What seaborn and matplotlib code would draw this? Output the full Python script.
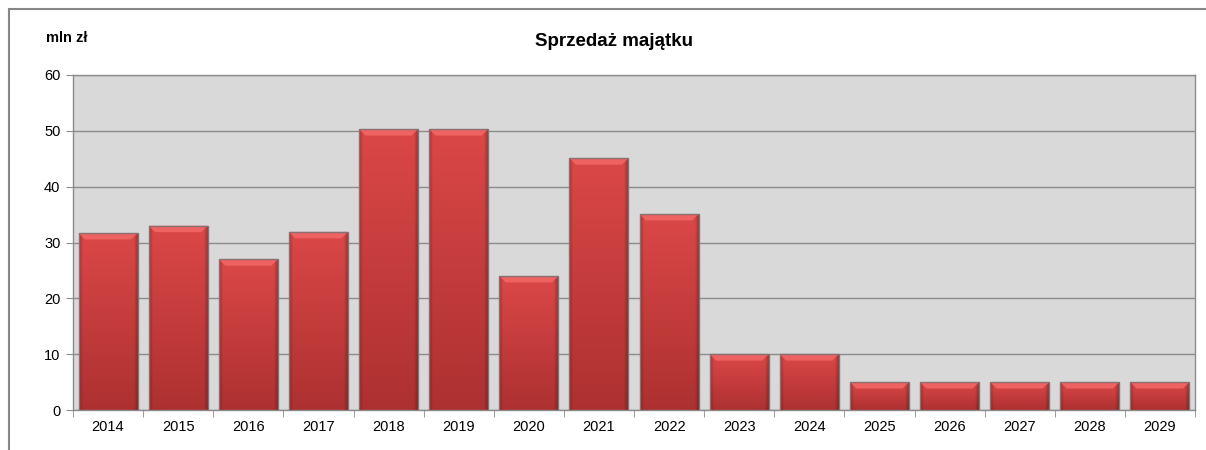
import numpy as np
import pandas as pd
import matplotlib
matplotlib.use("Agg")
import matplotlib.pyplot as plt
import seaborn as sns
from matplotlib.patches import Rectangle, Polygon
from matplotlib.ticker import FixedLocator

# Data
years = ["2014", "2015", "2016", "2017", "2018", "2019", "2020", "2021",
         "2022", "2023", "2024", "2025", "2026", "2027", "2028", "2029"]
sales = [31.7, 33.0, 27.0, 31.9, 50.3, 50.3, 24.0, 45.1,
         35.1, 10.0, 10.0, 5.0, 5.0, 5.0, 5.0, 5.0]
y_ticks = [0, 10, 20, 30, 40, 50, 60]

df = pd.DataFrame({"rok": years, "wartosc": sales})

sns.set_style("white")
plt.rcParams["font.family"] = ["Liberation Sans", "DejaVu Sans"]
plt.rcParams["text.color"] = "black"
plt.rcParams["xtick.color"] = "black"
plt.rcParams["ytick.color"] = "black"

fig = plt.figure(figsize=(12.06, 4.5), dpi=100)
ax = fig.add_axes([73 / 1206, 1 - 410 / 450, 1122 / 1206, 335 / 450])

sns.barplot(data=df, x="rok", y="wartosc", color="#d44040", width=0.84,
            saturation=1, ax=ax, zorder=2)

ax.set_facecolor("#d9d9d9")
ax.set_ylim(0, 60)
ax.set_xlim(-0.5, len(years) - 0.5)
ax.set_yticks(y_ticks)
ax.yaxis.grid(True, color="#8c8c8c", linewidth=1)
ax.set_axisbelow(True)
ax.set_xlabel("")
ax.set_ylabel("")
for s in ax.spines.values():
    s.set_color("#8c8c8c")
    s.set_linewidth(1)
ax.tick_params(axis="y", length=5, color="#8c8c8c", labelsize=10.5, pad=4,
               direction="out", left=True, labelcolor="black")
ax.tick_params(axis="x", length=0, labelsize=10.5, pad=7, labelcolor="black")
ax.xaxis.set_minor_locator(FixedLocator(np.arange(-0.5, len(years), 1)))
ax.tick_params(axis="x", which="minor", length=5, color="#8c8c8c",
               direction="out", bottom=True)

# gradient shading on each bar (like the 3D bevel bars)
top = np.array([0.86, 0.28, 0.28])
bottom = np.array([0.68, 0.19, 0.19])
ny, nx = 200, 60
vy = np.linspace(0, 1, ny)[:, None, None]
img = top * (1 - vy) + bottom * vy
hx = np.linspace(-1, 1, nx)[None, :, None]
edge = 1 - 0.25 * np.clip((np.abs(hx) - 0.88) / 0.12, 0, 1)
img = np.clip(img * edge, 0, 1)
bev_h = 1.15   # in value units (~6 px)
bev_w = 0.09   # in category units
for p in ax.patches:
    x0, y0 = p.get_x(), p.get_y()
    w, h = p.get_width(), p.get_height()
    if h <= 0:
        continue
    im = ax.imshow(img, extent=[x0, x0 + w, y0, y0 + h], aspect="auto",
                   origin="upper", zorder=3, interpolation="bilinear")
    im.set_clip_path(p)
    yt = y0 + h
    bev = Polygon([(x0, yt), (x0 + w, yt), (x0 + w - bev_w, yt - bev_h),
                   (x0 + bev_w, yt - bev_h)], closed=True,
                  facecolor="#ee6262", edgecolor="none", zorder=4)
    ax.add_patch(bev)
    p.set_edgecolor("#8a7070")
    p.set_linewidth(1)
    p.set_zorder(5)
    p.set_facecolor("none")

ax.set_xlim(-0.5, len(years) - 0.5)
ax.set_ylim(0, 60)

fig.text(614 / 1206, 1 - 42 / 450, "Sprzedaż majątku", ha="center",
         va="center", fontsize=13.5, fontweight="bold")
fig.text(46 / 1206, 1 - 38 / 450, "mln zł", ha="left", va="center",
         fontsize=10.5, fontweight="bold")

fig.patches.append(Rectangle((9 / 1206, -0.1), 1.2, 1 - 9 / 450 + 0.1,
                             transform=fig.transFigure, fill=False,
                             edgecolor="#878787", linewidth=1.5))

fig.savefig("out.png", dpi=100)
